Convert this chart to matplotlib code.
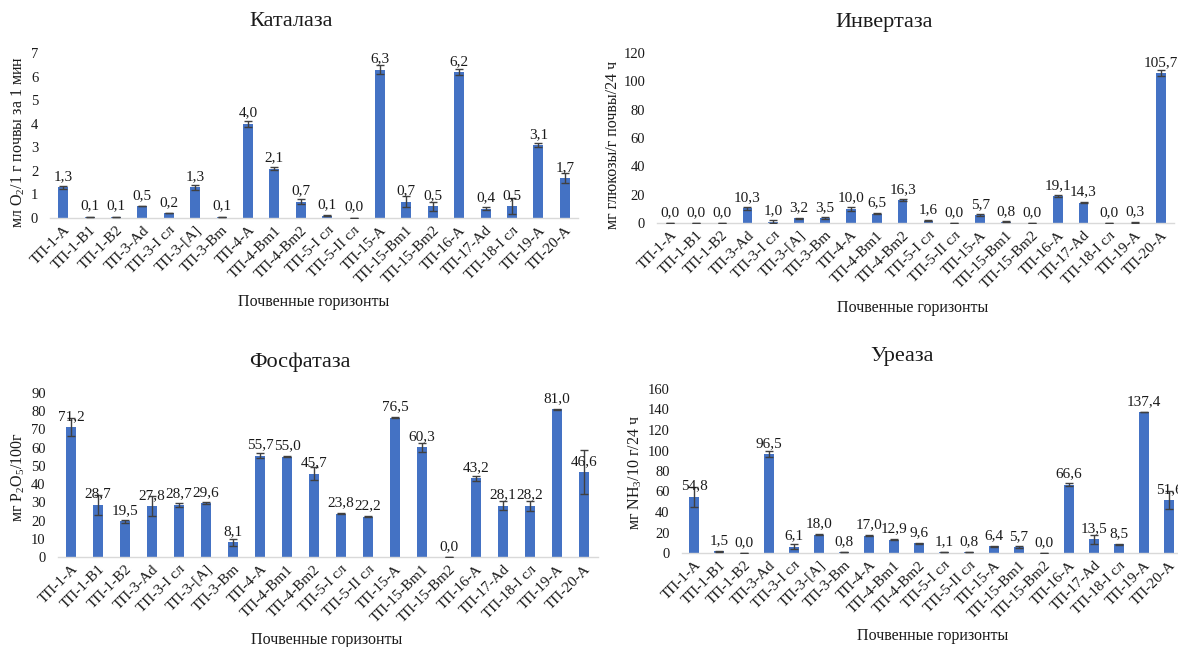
import matplotlib
matplotlib.use("Agg")
import matplotlib.pyplot as plt
import numpy as np

plt.rcParams['font.family'] = ['Liberation Serif', 'DejaVu Serif']
plt.rcParams['mathtext.fontset'] = 'custom'
plt.rcParams['mathtext.rm'] = 'Liberation Serif'
plt.rcParams['mathtext.default'] = 'regular'

categories = ["ТП-1-А", "ТП-1-В1", "ТП-1-В2", "ТП-3-Аd", "ТП-3-I сл", "ТП-3-[А]", "ТП-3-Вm",
              "ТП-4-А", "ТП-4-Вm1", "ТП-4-Вm2", "ТП-5-I сл", "ТП-5-II сл", "ТП-15-А",
              "ТП-15-Вm1", "ТП-15-Вm2", "ТП-16-А", "ТП-17-Аd", "ТП-18-I сл", "ТП-19-А", "ТП-20-А"]

catalase = [1.3, 0.06, 0.06, 0.5, 0.2, 1.3, 0.06, 4.0, 2.1, 0.7, 0.1, 0.02, 6.3, 0.7, 0.5, 6.2, 0.4, 0.5, 3.1, 1.7]
catalase_err = [0.05, 0.0, 0.0, 0.0, 0.0, 0.12, 0.0, 0.12, 0.08, 0.12, 0.02, 0.0, 0.2, 0.22, 0.2, 0.12, 0.08, 0.35, 0.1, 0.2]

invertase = [0.0, 0.0, 0.0, 10.3, 1.0, 3.2, 3.5, 10.0, 6.5, 16.3, 1.6, 0.0, 5.7, 0.8, 0.0, 19.1, 14.3, 0.0, 0.3, 105.7]
invertase_err = [0, 0, 0, 0.8, 1.2, 0.5, 0.5, 1.5, 0.3, 0.6, 0.5, 0, 0.5, 0.3, 0, 1.0, 0.5, 0, 0.2, 2.0]

phosphatase = [71.2, 28.7, 19.5, 27.8, 28.7, 29.6, 8.1, 55.7, 55.0, 45.7, 23.8, 22.2, 76.5, 60.3, 0.0, 43.2, 28.1, 28.2, 81.0, 46.6]
phosphatase_err = [5.0, 5.5, 1.0, 5.5, 1.2, 0.5, 1.8, 1.5, 0.3, 3.5, 0.3, 0.3, 0.3, 2.5, 0.0, 1.5, 2.5, 2.8, 0.3, 12.0]

urease = [54.8, 1.5, 0.0, 96.5, 6.1, 18.0, 0.8, 17.0, 12.9, 9.6, 1.1, 0.8, 6.4, 5.7, 0.0, 66.6, 13.5, 8.5, 137.4, 51.6]
urease_err = [10.0, 0.3, 0.0, 3.0, 2.5, 0.5, 0.2, 0.5, 0.5, 0.5, 0.2, 0.2, 0.5, 1.0, 0.0, 1.5, 4.5, 0.5, 0.3, 9.0]

panels = [
    dict(title="Каталаза", vals=catalase, err=catalase_err, ylim=7, step=1,
         ylabel="мл O$_2$/1 г почвы за 1 мин",
         px=(50, 578), py=(218, 53), title_xy=(291, 22), xl_xy=(314, 302), yl_xy=(18, 142)),
    dict(title="Инвертаза", vals=invertase, err=invertase_err, ylim=120, step=20,
         ylabel="мг глюкозы/г почвы/24 ч",
         px=(657, 1174), py=(223, 53), title_xy=(884, 22), xl_xy=(913, 308), yl_xy=(613, 145)),
    dict(title="Фосфатаза", vals=phosphatase, err=phosphatase_err, ylim=90, step=10,
         ylabel="мг P$_2$O$_5$/100г",
         px=(57.5, 597.5), py=(557, 393), title_xy=(300, 362), xl_xy=(327, 640), yl_xy=(18, 477)),
    dict(title="Уреаза", vals=urease, err=urease_err, ylim=160, step=20,
         ylabel="мг NH$_3$/10 г/24 ч",
         px=(681.5, 1181.5), py=(553, 389), title_xy=(902, 357), xl_xy=(933, 636), yl_xy=(635, 472)),
]

W, H = 1178, 647
fig = plt.figure(figsize=(W / 100, H / 100), dpi=100)

bar_color = "#4472C4"
text_color = "#1a1a1a"
x = np.arange(len(categories))

for p in panels:
    x0, x1 = p["px"]
    y0, y1 = p["py"]
    ax = fig.add_axes([x0 / W, 1 - y0 / H, (x1 - x0) / W, (y0 - y1) / H])
    ax.bar(x, p["vals"], width=0.38, color=bar_color, zorder=2)
    ax.errorbar(x, p["vals"], yerr=p["err"], fmt='none', ecolor="#404040",
                elinewidth=1, capsize=3, capthick=1, zorder=3)
    for xi, v in zip(x, p["vals"]):
        ax.annotate(f"{v:.1f}".replace(".", ","), (xi, v), xytext=(0, 3),
                    textcoords="offset points", ha="center", va="bottom",
                    fontsize=11, color=text_color, zorder=4)
    ax.set_xlim(-0.5, len(categories) - 0.5)
    ax.set_ylim(0, p["ylim"])
    ax.set_yticks(np.arange(0, p["ylim"] + 0.001, p["step"]))
    ax.set_xticks(x)
    ax.set_xticklabels(categories, rotation=45, ha="right", va="top",
                       rotation_mode="anchor", fontsize=11, color=text_color)
    ax.tick_params(axis="y", labelsize=10.5, length=0, colors=text_color, pad=8.5)
    ax.tick_params(axis="x", length=0, pad=4)
    for s in ["top", "right", "left"]:
        ax.spines[s].set_visible(False)
    ax.spines["bottom"].set_color("#D9D9D9")
    ax.spines["bottom"].set_linewidth(1)
    ax.patch.set_alpha(0)

    fig.text(p["title_xy"][0] / W, 1 - p["title_xy"][1] / H, p["title"],
             ha="center", va="center", fontsize=16, color=text_color)
    fig.text(p["xl_xy"][0] / W, 1 - p["xl_xy"][1] / H, "Почвенные горизонты",
             ha="center", va="center", fontsize=11.5, color=text_color)
    fig.text(p["yl_xy"][0] / W, 1 - p["yl_xy"][1] / H, p["ylabel"],
             ha="center", va="center", rotation=90, fontsize=11.5, color=text_color)

fig.savefig("out.png", dpi=100)
